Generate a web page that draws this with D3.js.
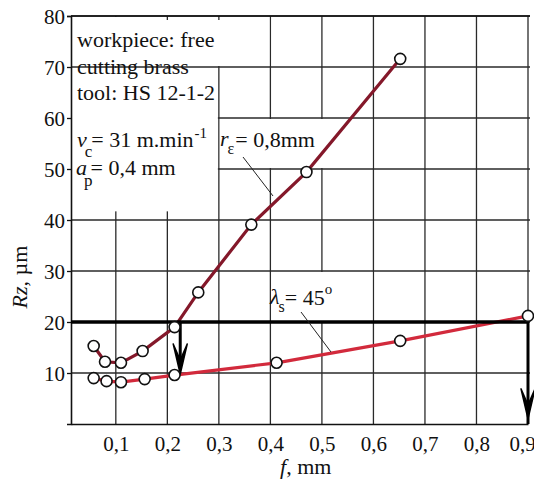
<!DOCTYPE html>
<html>
<head>
<meta charset="utf-8">
<script src="https://cdn.jsdelivr.net/npm/d3@7/dist/d3.min.js"></script>
</head>
<body style="margin:0">
<svg id="chart" width="534" height="482"></svg>
<script>
// ---- data ----
const xTickValues = [0.1, 0.2, 0.3, 0.4, 0.5, 0.6, 0.7, 0.8, 0.9];
const yTickValues = [10, 20, 30, 40, 50, 60, 70, 80];

// r_eps = 0.8 mm series
const upperF  = [0.057, 0.079, 0.11, 0.152, 0.214, 0.26, 0.363, 0.47, 0.652];
const upperRz = [15.3, 12.2, 12.0, 14.3, 19.0, 25.8, 39.1, 49.4, 71.6];

// lambda_s = 45 deg series
const lowerF  = [0.057, 0.082, 0.11, 0.156, 0.214, 0.412, 0.652, 0.9];
const lowerRz = [9.0, 8.4, 8.2, 8.8, 9.6, 12.0, 16.3, 21.2];

const limitRz = 20;
const arrowF  = [0.225, 0.9];
const arrowTipRz = [9.8, 1.0];

const SERIF = '"Liberation Serif"';

// ---- layout ----
const svg = d3.select("#chart");
svg.append("rect").attr("width", 534).attr("height", 482).attr("fill", "#fff");

const x = d3.scaleLinear().domain([0.013, 0.9]).range([71, 528]);
const y = d3.scaleLinear().domain([0, 80]).range([424, 16]);

const gridColor = "#2a2a2a";
const g = svg.append("g");

// grid
g.selectAll(".vgrid").data(xTickValues).join("line")
  .attr("x1", d => x(d)).attr("x2", d => x(d))
  .attr("y1", y(0)).attr("y2", y(80))
  .attr("stroke", gridColor).attr("stroke-width", 1.3);
g.selectAll(".hgrid").data(yTickValues).join("line")
  .attr("x1", x.range()[0]).attr("x2", x(0.9) + 2)
  .attr("y1", d => y(d)).attr("y2", d => y(d))
  .attr("stroke", gridColor).attr("stroke-width", 1.3);

// blanked areas (text boxes)
const blanks = [
  [0.013, 0.4, 70, 80],
  [0.013, 0.3, 41.5, 70],
  [0.3, 0.6, 50, 60],
  [0.4, 0.6, 20, 30]
];
g.selectAll(".blank").data(blanks).join("rect")
  .attr("x", d => x(d[0]) + 1)
  .attr("y", d => y(d[3]) + 1)
  .attr("width", d => x(d[1]) - x(d[0]) - 2)
  .attr("height", d => y(d[2]) - y(d[3]) - 2)
  .attr("fill", "#fff");

// small ticks on top border
g.selectAll(".ttick").data([0.2, 0.3]).join("line")
  .attr("x1", d => x(d)).attr("x2", d => x(d))
  .attr("y1", y(80)).attr("y2", y(80) + 4)
  .attr("stroke", gridColor).attr("stroke-width", 1.3);

// axes
const yAxis = d3.axisLeft(y).tickValues(yTickValues).tickSize(4).tickPadding(2)
  .tickFormat(d3.format("d"));
const yg = svg.append("g").attr("transform", `translate(${x.range()[0]},0)`).call(yAxis);
yg.attr("font-family", null).attr("font-size", null);
yg.select(".domain").attr("stroke", "#111").attr("stroke-width", 1.6);
yg.selectAll(".tick line").attr("stroke", "#111").attr("stroke-width", 1.3);
yg.selectAll(".tick text").style("font-family", SERIF).attr("font-size", 21)
  .attr("fill", "#111").attr("dy", "0.34em");

const xAxis = d3.axisBottom(x).tickValues(xTickValues).tickSize(0).tickPadding(12)
  .tickFormat(d => d.toFixed(1).replace(".", ","));
const xg = svg.append("g").attr("transform", `translate(0,${y(0)})`).call(xAxis);
xg.attr("font-family", null).attr("font-size", null);
xg.select(".domain").attr("stroke", "#111").attr("stroke-width", 1.6);
xg.selectAll(".tick text").style("font-family", SERIF).attr("font-size", 21).attr("fill", "#111")
  .attr("dx", d => d === 0.9 ? -6 : 0);

// top border
svg.append("line").attr("x1", x.range()[0]).attr("x2", x(0.9) + 2)
  .attr("y1", y(80)).attr("y2", y(80)).attr("stroke", "#111").attr("stroke-width", 1.6);

// series lines
const line = d3.line().x(d => x(d[0])).y(d => y(d[1]));
const upper = upperF.map((f, i) => [f, upperRz[i]]);
const lower = lowerF.map((f, i) => [f, lowerRz[i]]);

svg.append("path").datum(lower).attr("d", line)
  .attr("fill", "none").attr("stroke", "#d22a3c").attr("stroke-width", 3.2);
svg.append("path").datum(upper).attr("d", line)
  .attr("fill", "none").attr("stroke", "#84182a").attr("stroke-width", 3.2);

// limit line and arrows
svg.append("line").attr("x1", x.range()[0]).attr("x2", x(0.9))
  .attr("y1", y(limitRz)).attr("y2", y(limitRz))
  .attr("stroke", "#000").attr("stroke-width", 3.6);

arrowF.forEach((f, i) => {
  const ax = x(f), tip = y(arrowTipRz[i]);
  svg.append("line").attr("x1", ax).attr("x2", ax)
    .attr("y1", y(limitRz)).attr("y2", i === 1 ? y(0) : tip - 6)
    .attr("stroke", "#000").attr("stroke-width", 3);
  svg.append("path")
    .attr("d", `M${ax - 7},${tip - 30} L${ax},${tip} L${ax + 7},${tip - 30} L${ax},${tip - 14} Z`)
    .attr("fill", "#000").attr("stroke", "#000").attr("stroke-width", 1.5).attr("stroke-linejoin", "round");
});

// points
svg.selectAll(".pl").data(lower).join("circle")
  .attr("cx", d => x(d[0])).attr("cy", d => y(d[1])).attr("r", 5.5)
  .attr("fill", "#fff").attr("stroke", "#111").attr("stroke-width", 1.6);
svg.selectAll(".pu").data(upper).join("circle")
  .attr("cx", d => x(d[0])).attr("cy", d => y(d[1])).attr("r", 5.5)
  .attr("fill", "#fff").attr("stroke", "#111").attr("stroke-width", 1.6);

// leader lines
svg.append("line").attr("x1", 243).attr("y1", 157).attr("x2", 273).attr("y2", 196)
  .attr("stroke", "#222").attr("stroke-width", 1);
svg.append("line").attr("x1", 301).attr("y1", 312).attr("x2", 331).attr("y2", 352)
  .attr("stroke", "#222").attr("stroke-width", 1);

// annotation texts: parts = [text, size, italic, dx, dy]
function rich(xp, yp, parts) {
  const t = svg.append("text").attr("x", xp).attr("y", yp)
    .style("font-family", SERIF).attr("font-size", 22).attr("fill", "#111");
  parts.forEach(p => {
    const s = t.append("tspan").attr("font-size", p[1]).attr("dx", p[3] || 0).attr("dy", p[4] || 0).text(p[0]);
    if (p[2]) s.style("font-style", "italic");
  });
  return t;
}
rich(77, 47, [["workpiece: free", 22]]);
rich(77, 74, [["cutting brass", 22]]);
rich(77, 100, [["tool: HS 12-1-2", 22]]);

rich(77, 147, [["v", 22, true], ["c", 17, false, -2, 10], ["= 31 m.min", 22, false, -1, -10], ["-1", 15, false, 1, -9]]);
rich(76, 175, [["a", 22, true], ["p", 17, false, -3, 11], ["= 0,4 mm", 22, false, -2, -11]]);
rich(220, 146, [["r", 22, true], ["ε", 16, false, -1, 8], ["= 0,8mm", 22, false, 1, -7]]);
rich(270, 304, [["λ", 22, true], ["s", 16, false, -1, 8], ["= 45", 22, false, 0, -7], ["o", 15, false, 0, -11]]);

// axis titles
const xt = svg.append("text").attr("x", 280).attr("y", 474)
  .style("font-family", SERIF).attr("font-size", 22).attr("fill", "#111");
xt.append("tspan").style("font-style", "italic").text("f");
xt.append("tspan").text(", mm");

const yt = svg.append("text").attr("transform", "translate(27,277) rotate(-90)")
  .attr("text-anchor", "middle")
  .style("font-family", SERIF).attr("font-size", 22).attr("fill", "#111");
yt.append("tspan").style("font-style", "italic").text("Rz");
yt.append("tspan").text(", µm");
</script>
</body>
</html>
